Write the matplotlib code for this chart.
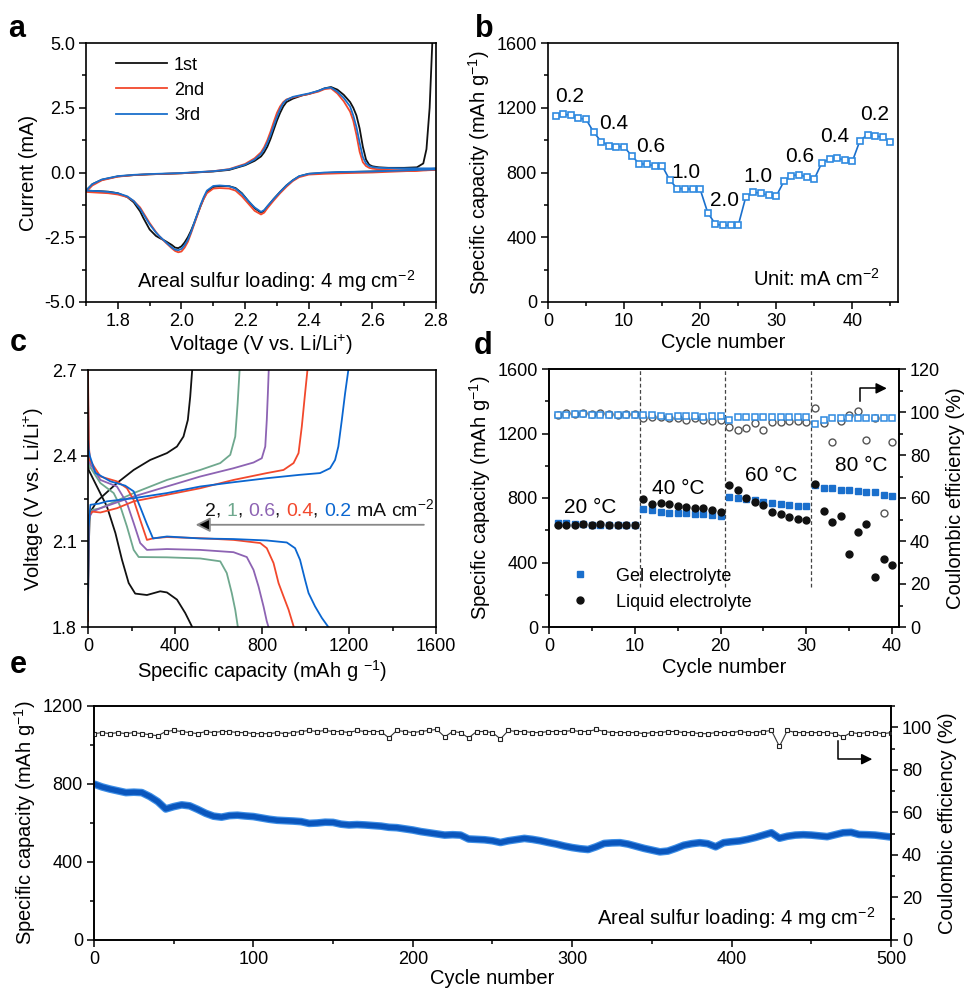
import numpy as np
import matplotlib
matplotlib.use('Agg')
import matplotlib.pyplot as plt
from matplotlib.ticker import MultipleLocator

plt.rcParams['font.family'] = ['Liberation Sans', 'DejaVu Sans']
plt.rcParams['mathtext.fontset'] = 'custom'
plt.rcParams['mathtext.rm'] = 'Liberation Sans'
plt.rcParams['mathtext.it'] = 'Liberation Sans:italic'
plt.rcParams['mathtext.bf'] = 'Liberation Sans:bold'
plt.rcParams['axes.linewidth'] = 1.2

TICK = 13
LAB = 14.5

BLACK = '#111111'
RED = '#f2482c'
BLUE = '#1a6fcc'
GREEN = '#6fa88e'
PURPLE = '#8d63b3'
LBLUE = '#2f8ae0'

# ---------- a: CV curves ----------
v_cath = [2.80, 2.70, 2.60, 2.50, 2.45, 2.40, 2.37, 2.35, 2.33, 2.31, 2.29, 2.27, 2.26, 2.25,
          2.23, 2.21, 2.19, 2.17, 2.15, 2.12, 2.10, 2.08, 2.07, 2.06, 2.05, 2.04, 2.03, 2.02,
          2.01, 2.00, 1.99, 1.98, 1.97, 1.95, 1.93, 1.92, 1.90, 1.88, 1.87, 1.85, 1.83, 1.80,
          1.77, 1.74, 1.70]
i_cath_1 = [0.15, 0.08, 0.04, 0.01, -0.02, -0.05, -0.15, -0.30, -0.50, -0.75, -1.02, -1.32, -1.48, -1.55,
            -1.38, -1.10, -0.80, -0.60, -0.53, -0.52, -0.56, -0.75, -1.00, -1.30, -1.62, -1.95, -2.25, -2.50,
            -2.70, -2.85, -2.92, -2.90, -2.80, -2.65, -2.52, -2.45, -2.20, -1.75, -1.50, -1.15, -0.95, -0.80,
            -0.74, -0.72, -0.70]
i_cath_2 = [0.10, 0.05, 0.00, -0.03, -0.05, -0.08, -0.18, -0.33, -0.55, -0.80, -1.08, -1.38, -1.55, -1.62,
            -1.48, -1.20, -0.92, -0.70, -0.62, -0.60, -0.62, -0.80, -1.02, -1.30, -1.65, -2.00, -2.35, -2.68,
            -2.90, -3.05, -3.08, -3.03, -2.93, -2.70, -2.45, -2.30, -1.95, -1.55, -1.35, -1.10, -0.95, -0.85,
            -0.80, -0.78, -0.75]
i_cath_3 = [0.12, 0.08, 0.04, 0.02, 0.00, -0.05, -0.14, -0.30, -0.50, -0.75, -1.02, -1.30, -1.45, -1.52,
            -1.35, -1.10, -0.82, -0.62, -0.53, -0.50, -0.52, -0.70, -0.95, -1.25, -1.60, -1.95, -2.30, -2.60,
            -2.80, -2.95, -3.00, -2.98, -2.90, -2.68, -2.45, -2.32, -2.00, -1.60, -1.40, -1.10, -0.92, -0.80,
            -0.75, -0.72, -0.70]
v_anod = [1.70, 1.72, 1.75, 1.80, 1.85, 1.90, 2.00, 2.10, 2.15, 2.20, 2.23, 2.25, 2.26, 2.27, 2.28,
          2.29, 2.30, 2.31, 2.32, 2.33, 2.35, 2.38, 2.40, 2.43, 2.45, 2.47, 2.49, 2.51, 2.53, 2.54,
          2.55, 2.56, 2.57, 2.58, 2.59, 2.60, 2.62, 2.65, 2.70, 2.74, 2.76, 2.77, 2.78, 2.785, 2.79, 2.80]
i_anod_1 = [-0.70, -0.45, -0.28, -0.15, -0.10, -0.07, -0.03, 0.04, 0.10, 0.28, 0.45, 0.62, 0.78, 1.00, 1.30,
            1.65, 2.00, 2.30, 2.55, 2.72, 2.85, 2.98, 3.03, 3.15, 3.25, 3.30, 3.20, 3.00, 2.72, 2.50,
            2.20, 1.70, 1.00, 0.50, 0.30, 0.24, 0.20, 0.18, 0.18, 0.20, 0.35, 0.90, 2.50, 4.00, 5.50, 7.00]
i_anod_2 = [-0.75, -0.50, -0.30, -0.16, -0.10, -0.07, -0.03, 0.05, 0.13, 0.33, 0.55, 0.78, 0.98, 1.25, 1.58,
            1.95, 2.30, 2.55, 2.72, 2.82, 2.90, 2.98, 3.03, 3.12, 3.22, 3.25, 3.05, 2.75, 2.35, 2.00,
            1.45, 0.80, 0.40, 0.25, 0.18, 0.15, 0.12, 0.10, 0.08, 0.08, 0.09, 0.09, 0.10, 0.10, 0.11, 0.12]
i_anod_3 = [-0.70, -0.45, -0.27, -0.14, -0.09, -0.06, -0.02, 0.05, 0.12, 0.30, 0.50, 0.72, 0.90, 1.15, 1.45,
            1.80, 2.15, 2.45, 2.68, 2.80, 2.92, 3.00, 3.05, 3.15, 3.25, 3.28, 3.12, 2.88, 2.55, 2.20,
            1.75, 1.15, 0.60, 0.35, 0.25, 0.21, 0.18, 0.17, 0.16, 0.16, 0.16, 0.16, 0.16, 0.16, 0.16, 0.16]

# ---------- b: rate capability ----------
rate_cycles = list(range(1, 46))
rate_cap = [1150, 1160, 1154, 1135, 1129, 1049, 991, 966, 960, 960,
            902, 855, 850, 842, 842, 753, 700, 700, 696, 696,
            551, 481, 473, 473, 473, 650, 679, 671, 659, 654,
            745, 780, 787, 772, 760, 861, 882, 888, 877, 869,
            997, 1034, 1026, 1018, 989]
rate_labels = ['0.2', '0.4', '0.6', '1.0', '2.0', '1.0', '0.6', '0.4', '0.2']
rate_label_x = [2.9, 8.6, 13.5, 18.1, 23.2, 27.6, 33.1, 37.7, 42.9]
rate_label_y = [1270, 1105, 960, 800, 625, 775, 900, 1022, 1156]

# ---------- c: charge/discharge profiles ----------
c_rates = ['2', '1', '0.6', '0.4', '0.2']
dis_cap = [
    [0, 3, 41, 87, 126, 156, 187, 217, 271, 332, 363, 409, 447, 470, 479],
    [0, 3, 8, 57, 118, 149, 179, 210, 233, 363, 516, 608, 638, 661, 677, 689],
    [0, 3, 8, 57, 133, 179, 210, 240, 271, 363, 516, 669, 730, 761, 784, 807, 822, 830],
    [0, 3, 8, 57, 133, 179, 210, 240, 271, 302, 363, 516, 669, 792, 822, 853, 876, 899, 922, 945],
    [0, 3, 8, 34, 103, 171, 210, 240, 271, 299, 363, 516, 669, 822, 914, 952, 975, 998, 1014, 1044, 1075, 1105],
]
dis_v = [
    [2.50, 2.35, 2.292, 2.222, 2.129, 2.036, 1.954, 1.917, 1.912, 1.925, 1.921, 1.896, 1.849, 1.814, 1.80],
    [2.60, 2.45, 2.362, 2.304, 2.269, 2.222, 2.152, 2.07, 2.045, 2.044, 2.04, 2.03, 1.989, 1.919, 1.86, 1.80],
    [2.65, 2.45, 2.374, 2.315, 2.292, 2.234, 2.164, 2.094, 2.07, 2.073, 2.07, 2.062, 2.045, 2.0, 1.942, 1.872, 1.82, 1.80],
    [2.70, 2.45, 2.385, 2.327, 2.31, 2.286, 2.245, 2.175, 2.105, 2.111, 2.115, 2.111, 2.105, 2.094, 2.076, 2.024, 1.954, 1.907, 1.861, 1.803],
    [2.45, 2.42, 2.40, 2.34, 2.31, 2.295, 2.275, 2.22, 2.16, 2.11, 2.117, 2.11, 2.108, 2.103, 2.096, 2.076, 2.035, 1.965, 1.919, 1.872, 1.832, 1.80],
]
chg_cap = [
    [0, 3, 8, 41, 133, 210, 286, 363, 409, 439, 459, 470, 479],
    [0, 3, 20, 57, 210, 363, 516, 608, 654, 677, 688, 697],
    [0, 3, 20, 57, 210, 363, 516, 669, 761, 799, 815, 822, 827, 831],
    [0, 3, 20, 57, 133, 210, 363, 516, 669, 822, 899, 945, 968, 983, 998, 1009],
    [0, 3, 11, 50, 87, 210, 363, 516, 669, 822, 975, 1067, 1113, 1136, 1151, 1167, 1182, 1197],
]
chg_v = [
    [1.95, 2.06, 2.199, 2.24, 2.304, 2.35, 2.385, 2.409, 2.432, 2.467, 2.525, 2.607, 2.70],
    [1.88, 2.18, 2.21, 2.216, 2.269, 2.315, 2.35, 2.374, 2.403, 2.467, 2.583, 2.70],
    [1.85, 2.18, 2.204, 2.216, 2.257, 2.292, 2.327, 2.356, 2.376, 2.391, 2.432, 2.525, 2.618, 2.70],
    [1.82, 2.19, 2.204, 2.201, 2.216, 2.24, 2.263, 2.286, 2.315, 2.339, 2.35, 2.374, 2.409, 2.502, 2.618, 2.70],
    [1.86, 2.15, 2.228, 2.232, 2.24, 2.251, 2.269, 2.292, 2.307, 2.321, 2.333, 2.339, 2.356, 2.385, 2.432, 2.525, 2.618, 2.70],
]
c_colors = [BLACK, GREEN, PURPLE, RED, '#0a66d0']

# ---------- d: temperature ----------
temp_cycles = list(range(1, 41))
gel_cap = [645, 645, 640, 640, 635, 635, 635, 635, 635, 632,
           732, 725, 715, 710, 705, 705, 700, 700, 695, 690,
           804, 800, 795, 785, 775, 770, 765, 755, 750, 750,
           880, 865, 860, 850, 850, 845, 840, 835, 820, 815]
liq_cap = [630, 630, 635, 640, 635, 640, 635, 632, 630, 632,
           796, 765, 768, 760, 748, 745, 735, 735, 728, 715,
           878, 851, 800, 775, 755, 715, 700, 680, 670, 665,
           889, 717, 653, 690, 453, 589, 641, 310, 421, 382]
gel_ce = [98.5, 98.5, 99.0, 99.0, 98.5, 98.5, 98.5, 98.5, 98.5, 98.8,
          98.5, 98.5, 98.0, 97.5, 98.0, 98.0, 98.0, 97.5, 98.0, 98.0,
          96.5, 97.5, 97.5, 97.5, 97.5, 97.5, 97.5, 97.5, 97.5, 97.5,
          94.5, 96.5, 97.0, 97.0, 97.0, 97.0, 97.0, 97.0, 97.0, 97.0]
liq_ce = [98.5, 99.5, 99.0, 99.5, 99.0, 99.5, 99.0, 98.5, 99.0, 99.0,
          97.0, 97.5, 97.5, 97.0, 97.0, 96.5, 97.0, 96.5, 96.0, 96.5,
          93.0, 91.5, 92.5, 95.0, 91.5, 95.5, 95.5, 96.0, 96.0, 95.5,
          102.0, 95.0, 86.0, 96.0, 98.5, 100.5, 87.0, 97.0, 53.0, 86.0]
temps = ['20 °C', '40 °C', '60 °C', '80 °C']
temp_x = [4.8, 15.1, 25.9, 36.4]
temp_y = [740, 862, 940, 1000]
temp_breaks = [10.55, 20.55, 30.55]

# ---------- e: long cycling ----------
long_cycles = list(range(0, 501, 5))
long_cap = [800, 785, 774, 765, 756, 758, 756, 736, 710, 672,
            684, 693, 688, 670, 650, 635, 630, 638, 640, 636,
            633, 626, 619, 614, 612, 610, 607, 598, 600, 604,
            603, 594, 590, 592, 590, 587, 584, 578, 576, 570,
            564, 556, 550, 544, 538, 540, 538, 518, 516, 514,
            509, 500, 509, 515, 521, 516, 509, 500, 492, 482,
            474, 468, 464, 478, 495, 498, 499, 492, 481, 470,
            461, 452, 456, 470, 486, 494, 499, 494, 478, 499,
            504, 508, 516, 526, 538, 550, 522, 532, 538, 540,
            538, 534, 530, 540, 550, 552, 541, 540, 538, 533,
            528]
long_ce = [97.0, 97.5, 97.0, 97.5, 97.0, 97.5, 97.0, 96.5, 96.0, 98.0,
           98.5, 98.0, 97.5, 97.0, 98.0, 97.5, 98.0, 98.0, 97.5, 97.5,
           97.0, 97.0, 97.0, 97.5, 97.0, 97.5, 98.0, 98.5, 98.0, 98.5,
           98.0, 98.0, 97.5, 98.5, 98.0, 98.0, 98.0, 95.0, 98.5, 98.0,
           97.5, 98.0, 98.5, 99.0, 95.5, 98.0, 97.5, 95.0, 98.0, 98.0,
           97.5, 94.5, 98.5, 98.0, 98.0, 97.5, 97.5, 98.0, 98.0, 98.0,
           98.5, 98.0, 98.0, 99.0, 98.0, 97.5, 97.5, 97.5, 97.5, 97.0,
           97.5, 97.5, 98.0, 98.0, 97.5, 97.5, 97.0, 97.0, 97.5, 97.5,
           97.5, 98.0, 97.5, 97.5, 98.0, 98.5, 91.0, 98.5, 97.5, 97.5,
           97.5, 97.5, 97.5, 97.0, 95.5, 97.5, 97.0, 97.5, 97.5, 97.0,
           97.5]


def style(ax, right=False):
    ax.tick_params(which='both', direction='out', labelsize=TICK, width=1.1,
                   top=False, right=right, pad=3)
    ax.tick_params(which='major', length=5)
    ax.tick_params(which='minor', length=3)


fig = plt.figure(figsize=(9.64, 9.9), dpi=100)
W, H = 964.0, 990.0


def box(l, t, r, b):
    return [l / W, 1 - b / H, (r - l) / W, (b - t) / H]


# ----- a -----
axa = fig.add_axes(box(86, 43, 436, 302))
axa.plot(v_cath + v_anod, i_cath_1 + i_anod_1, color=BLACK, lw=1.3, label='1st')
axa.plot(v_cath + v_anod, i_cath_2 + i_anod_2, color=RED, lw=1.3, label='2nd')
axa.plot(v_cath + v_anod, i_cath_3 + i_anod_3, color=BLUE, lw=1.3, label='3rd')
axa.set_xlim(1.7, 2.8)
axa.set_ylim(-5, 5)
axa.xaxis.set_major_locator(MultipleLocator(0.2))
axa.xaxis.set_minor_locator(MultipleLocator(0.1))
axa.yaxis.set_major_locator(MultipleLocator(2.5))
axa.yaxis.set_minor_locator(MultipleLocator(1.25))
axa.xaxis.set_major_formatter(matplotlib.ticker.FormatStrFormatter('%.1f'))
axa.yaxis.set_major_formatter(matplotlib.ticker.FormatStrFormatter('%.1f'))
style(axa)
axa.set_xlabel('Voltage (V vs. Li/Li$^{+}$)', fontsize=LAB, labelpad=2)
axa.set_ylabel('Current (mA)', fontsize=LAB, labelpad=4)
axa.legend(loc='upper left', bbox_to_anchor=(0.04, 1.01), frameon=False, fontsize=13,
           handlelength=2.8, handletextpad=0.4, labelspacing=0.45)
axa.text(2.735, -4.2, 'Areal sulfur loading: 4 mg cm$^{-2}$', fontsize=LAB,
         ha='right', va='center')

# ----- b -----
axb = fig.add_axes(box(548, 43, 898, 302))
axb.plot(rate_cycles, rate_cap, color=BLUE, lw=1.2, marker='s', ms=5,
         mfc='white', mec=LBLUE, mew=1.2)
for s, x, y in zip(rate_labels, rate_label_x, rate_label_y):
    axb.text(x, y, s, fontsize=15, ha='center', va='center')
axb.text(43.6, 145, 'Unit: mA cm$^{-2}$', fontsize=LAB, ha='right', va='center')
axb.set_xlim(0, 46)
axb.set_ylim(0, 1600)
axb.xaxis.set_major_locator(MultipleLocator(10))
axb.xaxis.set_minor_locator(MultipleLocator(5))
axb.yaxis.set_major_locator(MultipleLocator(400))
axb.yaxis.set_minor_locator(MultipleLocator(200))
style(axb)
axb.set_xlabel('Cycle number', fontsize=LAB, labelpad=2)
axb.set_ylabel('Specific capacity (mAh g$^{-1}$)', fontsize=LAB, labelpad=3)

# ----- c -----
axc = fig.add_axes(box(88, 370, 436, 627))
for i in range(len(c_rates)):
    axc.plot(dis_cap[i], dis_v[i], color=c_colors[i], lw=1.3)
    axc.plot(chg_cap[i], chg_v[i], color=c_colors[i], lw=1.3)
axc.annotate('', xy=(482, 2.158), xytext=(1557, 2.158),
             arrowprops=dict(arrowstyle='-|>', color='#888888', lw=1.3,
                             mutation_scale=22, fc='black', ec='#888888'))
parts = [('2', BLACK), (', ', BLACK), ('1', GREEN), (', ', BLACK), ('0.6', PURPLE),
         (', ', BLACK), ('0.4', RED), (', ', BLACK), ('0.2', '#0a66d0'), (' mA cm$^{-2}$', BLACK)]
t = axc.text(539, 2.176, parts[0][0], color=parts[0][1], fontsize=14, va='bottom', ha='left')
for s, col in parts[1:]:
    t = axc.annotate(s, xy=(1, 0), xycoords=t, color=col, fontsize=14, va='bottom', ha='left')
axc.set_xlim(0, 1600)
axc.set_ylim(1.8, 2.7)
axc.xaxis.set_major_locator(MultipleLocator(400))
axc.xaxis.set_minor_locator(MultipleLocator(200))
axc.yaxis.set_major_locator(MultipleLocator(0.3))
axc.yaxis.set_minor_locator(MultipleLocator(0.15))
axc.yaxis.set_major_formatter(matplotlib.ticker.FormatStrFormatter('%.1f'))
style(axc)
axc.set_xlabel('Specific capacity (mAh g $^{-1}$)', fontsize=LAB, labelpad=2)
axc.set_ylabel('Voltage (V vs. Li/Li$^{+}$)', fontsize=LAB, labelpad=4)

# ----- d -----
axd = fig.add_axes(box(549, 369, 899, 627))
axd2 = axd.twinx()
for xb in temp_breaks:
    axd.plot([xb, xb], [250, 1600], color='#444444', lw=0.9, ls=(0, (3, 2)))
axd.plot(temp_cycles, gel_cap, ls='none', marker='s', ms=4.6, color=BLUE, label='Gel electrolyte')
axd.plot(temp_cycles, liq_cap, ls='none', marker='o', ms=5, color=BLACK, label='Liquid electrolyte')
axd2.plot(temp_cycles, liq_ce, ls='none', marker='o', ms=5, mfc='none', mec='#555555', mew=1.0)
axd2.plot(temp_cycles, gel_ce, ls='none', marker='s', ms=5, mfc='white', mec=LBLUE, mew=1.1)
for s, x, y in zip(temps, temp_x, temp_y):
    axd.text(x, y, s, fontsize=15, ha='center', va='center')
axd2.plot([36.2, 36.2, 38.8], [105, 111, 111], color='black', lw=1.1)
axd2.annotate('', xy=(39.7, 111), xytext=(38.6, 111),
              arrowprops=dict(arrowstyle='-|>', color='black', lw=1.1, mutation_scale=16))
axd.legend(loc='lower left', bbox_to_anchor=(0.0, 0.0), frameon=False, fontsize=13,
           handlelength=1.6, handletextpad=1.2, labelspacing=0.5, numpoints=1)
axd.set_xlim(0, 40.8)
axd.set_ylim(0, 1600)
axd2.set_ylim(0, 120)
axd.xaxis.set_major_locator(MultipleLocator(10))
axd.xaxis.set_minor_locator(MultipleLocator(5))
axd.yaxis.set_major_locator(MultipleLocator(400))
axd.yaxis.set_minor_locator(MultipleLocator(200))
axd2.yaxis.set_major_locator(MultipleLocator(20))
axd2.yaxis.set_minor_locator(MultipleLocator(10))
style(axd)
axd2.tick_params(which='both', direction='out', labelsize=TICK, width=1.1, pad=3)
axd2.tick_params(which='major', length=5)
axd2.tick_params(which='minor', length=3)
axd.set_xlabel('Cycle number', fontsize=LAB, labelpad=2)
axd.set_ylabel('Specific capacity (mAh g$^{-1}$)', fontsize=LAB, labelpad=3)
axd2.set_ylabel('Coulombic efficiency (%)', fontsize=LAB, labelpad=4)

# ----- e -----
axe = fig.add_axes(box(94, 706, 891, 940))
axe2 = axe.twinx()
axe.plot(long_cycles, long_cap, color='#3d8ee6', lw=5.5, solid_capstyle='butt')
axe.plot(long_cycles, long_cap, color='#0a56bd', lw=3.8, solid_capstyle='butt')
axe2.plot(long_cycles, long_ce, color='#333333', lw=0.8, marker='s', ms=3.2,
          mfc='white', mec='#222222', mew=0.8)
axe2.plot([467, 467, 486], [93.5, 85, 85], color='black', lw=1.1)
axe2.annotate('', xy=(490, 85), xytext=(484, 85),
              arrowprops=dict(arrowstyle='-|>', color='black', lw=1.1, mutation_scale=16))
axe.text(490, 115, 'Areal sulfur loading: 4 mg cm$^{-2}$', fontsize=LAB,
         ha='right', va='center')
axe.set_xlim(0, 500)
axe.set_ylim(0, 1200)
axe2.set_ylim(0, 110)
axe.xaxis.set_major_locator(MultipleLocator(100))
axe.xaxis.set_minor_locator(MultipleLocator(50))
axe.yaxis.set_major_locator(MultipleLocator(400))
axe.yaxis.set_minor_locator(MultipleLocator(200))
axe2.yaxis.set_major_locator(MultipleLocator(20))
axe2.yaxis.set_minor_locator(MultipleLocator(10))
style(axe)
axe2.tick_params(which='both', direction='out', labelsize=TICK, width=1.1, pad=3)
axe2.tick_params(which='major', length=5)
axe2.tick_params(which='minor', length=3)
axe.set_xlabel('Cycle number', fontsize=LAB, labelpad=1)
axe.set_ylabel('Specific capacity (mAh g$^{-1}$)', fontsize=LAB, labelpad=3)
axe2.set_ylabel('Coulombic efficiency (%)', fontsize=LAB, labelpad=4)

# panel letters
for s, x, y in [('a', 17, 29), ('b', 484, 29), ('c', 18, 343), ('d', 483, 346), ('e', 18, 665)]:
    fig.text(x / W, 1 - y / H, s, fontsize=22, fontweight='bold', ha='center', va='center')

fig.savefig('out.png', dpi=100)
